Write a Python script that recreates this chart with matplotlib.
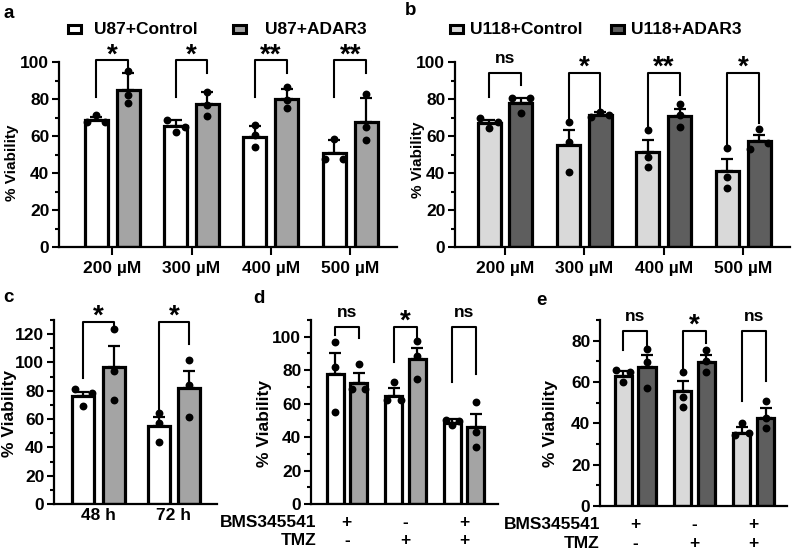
import numpy as np
import matplotlib
matplotlib.use("Agg")
import matplotlib.pyplot as plt
from matplotlib.patches import Rectangle
from matplotlib.ticker import MultipleLocator
import matplotlib.transforms as mtransforms

plt.rcParams['font.family'] = ['Liberation Sans', 'DejaVu Sans']
plt.rcParams['font.weight'] = 'bold'

# ---------------- data ----------------
conc_labels = ['200 µM', '300 µM', '400 µM', '500 µM']
time_labels = ['48 h', '72 h']
bms_signs = ['+', '-', '+']
tmz_signs = ['-', '+', '+']

# a: U87 control vs ADAR3, TMZ dose
a_ctrl_mean = [68.7, 65.2, 59.5, 51.0]
a_ctrl_err = [1.8, 3.3, 6.0, 6.8]
a_ctrl_pts = [[67.5, 71.2, 67.5], [68.5, 62.0, 65.0], [66.0, 60.5, 53.9], [58.2, 47.4, 47.4]]
a_adar_mean = [85.1, 77.3, 80.2, 67.8]
a_adar_err = [9.0, 6.7, 5.3, 12.6]
a_adar_pts = [[95.3, 82.0, 78.0], [84.0, 77.0, 71.0], [86.3, 79.5, 75.0], [82.5, 64.7, 57.8]]
a_sig = ['*', '*', '**', '**']
a_br_top = 101
a_br_left = [81, 81, 81, 81]
a_br_right = [94, 94, 94, 94]

# b: U118 control vs ADAR3, TMZ dose
b_ctrl_mean = [67.0, 55.0, 51.5, 40.9]
b_ctrl_err = [1.7, 8.0, 6.3, 6.6]
b_ctrl_pts = [[70.0, 64.2, 67.7], [67.7, 56.9, 40.7], [63.2, 48.8, 43.1], [53.3, 38.0, 32.1]]
b_adar_mean = [77.8, 71.5, 71.0, 57.4]
b_adar_err = [2.7, 1.6, 3.8, 3.2]
b_adar_pts = [[80.5, 80.5, 72.5], [70.5, 72.8, 71.5], [77.5, 71.2, 64.7], [63.8, 52.8, 56.0]]
b_sig = ['ns', '*', '**', '*']
b_br_top = 94.2
b_br_left = [81.3, 67.7, 63.2, 53.5]
b_br_right = [87.6, 75.0, 82.0, 67.0]

# c: U87 control vs ADAR3, time course
c_ctrl_mean = [76.0, 55.2]
c_ctrl_err = [3.0, 6.0]
c_ctrl_pts = [[81.0, 78.1, 69.2], [64.0, 57.5, 44.0]]
c_adar_mean = [96.5, 82.3]
c_adar_err = [15.2, 12.0]
c_adar_pts = [[123.5, 93.9, 73.4], [101.5, 84.0, 61.5]]
c_sig = ['*', '*']
c_br_top = 128.7
c_br_left = [89, 63]
c_br_right = [126, 113]

# d: U87, BMS345541 / TMZ
d_ctrl_mean = [77.5, 64.8, 48.6]
d_ctrl_err = [12.5, 4.3, 2.0]
d_ctrl_pts = [[96.6, 82.0, 54.8], [73.0, 62.2, 62.2], [50.5, 47.5, 49.5]]
d_adar_mean = [72.6, 86.5, 45.8]
d_adar_err = [6.0, 7.0, 8.0]
d_adar_pts = [[83.5, 68.5, 68.5], [97.6, 88.6, 74.7], [61.2, 43.2, 34.3]]
d_sig = ['ns', '*', 'ns']
d_br_top = 106
d_br_left = [101, 85, 73]
d_br_right = [99, 100, 78]

# e: U118, BMS345541 / TMZ
e_ctrl_mean = [63.1, 55.5, 35.4]
e_ctrl_err = [2.1, 5.2, 2.8]
e_ctrl_pts = [[66.0, 64.7, 60.2], [64.7, 52.7, 47.8], [40.3, 34.5, 35.5]]
e_adar_mean = [67.1, 69.9, 42.7]
e_adar_err = [6.0, 3.4, 4.8]
e_adar_pts = [[76.0, 69.9, 57.2], [75.5, 70.4, 64.7], [51.0, 42.5, 37.7]]
e_sig = ['ns', '*', 'ns']
e_br_top = 84.9
e_br_left = [75.5, 66.3, 51.0]
e_br_right = [74.4, 78.7, 60.7]

# ---------------- style ----------------
W, H = 793, 551
FS = 12.5
U87_COLORS = ['white', '#a4a4a4']
U118_COLORS = ['#d9d9d9', '#5e5e5e']

fig = plt.figure(figsize=(W / 100, H / 100), dpi=100)


def px_axes(left, top, right, bottom):
    return fig.add_axes([left / W, 1 - bottom / H, (right - left) / W, (bottom - top) / H])


def spread(vals, thr):
    # spread near-equal points sideways like a swarm
    vals = np.asarray(vals, dtype=float)
    order = np.argsort(vals, kind='stable')
    dx = np.zeros(len(vals))
    groups, cur = [], [order[0]]
    for k in order[1:]:
        if vals[k] - vals[cur[-1]] < thr:
            cur.append(k)
        else:
            groups.append(cur)
            cur = [k]
    groups.append(cur)
    for g in groups:
        if len(g) > 1:
            g = sorted(g)
            dx[g] = np.linspace(-0.115, 0.115, len(g))
    return dx


def draw_panel(ax, ctrl, adar, colors, ymax, major, sig, br_top, br_left, br_right):
    n = len(ctrl[0])
    x = np.arange(n)
    thr = 0.038 * ymax
    for (means, errs, pts), off, col in [(ctrl, -0.2, colors[0]), (adar, 0.2, colors[1])]:
        ax.bar(x + off, means, width=0.29, color=col, edgecolor='black', linewidth=2.3, zorder=2)
        ax.errorbar(x + off, means, yerr=[np.zeros(n), errs], fmt='none', ecolor='black',
                    elinewidth=1.6, capsize=4, capthick=1.6, zorder=3)
        for i, p in enumerate(pts):
            ax.scatter(x[i] + off + spread(p, thr), p, s=32, color='black', zorder=4,
                       linewidths=0, clip_on=False)
    for i in range(n):
        xl, xr = x[i] - 0.2, x[i] + 0.2
        ax.plot([xl, xl, xr, xr], [br_left[i], br_top, br_top, br_right[i]], color='black',
                lw=1.5, clip_on=False, zorder=5)
        if sig[i] == 'ns':
            ax.annotate('ns', (x[i], br_top), xytext=(0, 7), textcoords='offset points',
                        ha='center', va='baseline', fontsize=FS, annotation_clip=False)
        else:
            ax.annotate(sig[i], (x[i], br_top), xytext=(0, -1.5), textcoords='offset points',
                        ha='center', va='baseline', fontsize=20, annotation_clip=False)
    ax.set_ylim(0, ymax)
    ax.yaxis.set_major_locator(MultipleLocator(major))
    ax.yaxis.set_minor_locator(MultipleLocator(major / 2))
    ax.spines[['top', 'right']].set_visible(False)
    for s in ['left', 'bottom']:
        ax.spines[s].set_linewidth(1.6)
    ax.tick_params(axis='y', which='major', length=5, width=1.5, labelsize=FS, pad=2)
    ax.tick_params(axis='y', which='minor', length=3, width=1.5)
    ax.tick_params(axis='x', length=6, width=1.5, labelsize=FS, pad=4)
    ax.set_xticks(x)


def ylabel(ax, xpos, ypos, size):
    ax.text(xpos, ypos, '% Viability', transform=ax.transAxes, rotation=90,
            ha='center', va='center', fontsize=size)


def sign_rows(ax, right_x):
    tr = mtransforms.blended_transform_factory(ax.transData, ax.transAxes)
    ax.set_xticks([])
    for i, (b, t) in enumerate(zip(bms_signs, tmz_signs)):
        ax.text(i, -0.10, b, transform=tr, ha='center', va='center', fontsize=FS)
        ax.text(i, -0.20, t, transform=tr, ha='center', va='center', fontsize=FS)
    ax.text(right_x, -0.10, 'BMS345541', transform=tr, ha='right', va='center', fontsize=FS)
    ax.text(right_x, -0.20, 'TMZ', transform=tr, ha='right', va='center', fontsize=FS)


def legend(items):
    for (x0, tx, lab, col) in items:
        fig.patches.append(Rectangle((x0 / W, 1 - 33 / H), 13 / W, 8 / H, transform=fig.transFigure,
                                     facecolor=col, edgecolor='black', linewidth=2.2))
        fig.text(tx / W, 1 - 29 / H, lab, ha='left', va='center', fontsize=FS)


# a
ax_a = px_axes(59, 62, 397, 247)
draw_panel(ax_a, (a_ctrl_mean, a_ctrl_err, a_ctrl_pts), (a_adar_mean, a_adar_err, a_adar_pts),
           U87_COLORS, 100, 20, a_sig, a_br_top, a_br_left, a_br_right)
ax_a.set_xlim(-0.67, 3.59)
ax_a.set_xticklabels(conc_labels)
ylabel(ax_a, -0.139, 0.454, 11)

# b
ax_b = px_axes(455, 62, 790, 247)
draw_panel(ax_b, (b_ctrl_mean, b_ctrl_err, b_ctrl_pts), (b_adar_mean, b_adar_err, b_adar_pts),
           U118_COLORS, 100, 20, b_sig, b_br_top, b_br_left, b_br_right)
ax_b.set_xlim(-0.63, 3.59)
ax_b.set_xticklabels(conc_labels)
ylabel(ax_b, -0.11, 0.47, 11)

# c
ax_c = px_axes(54, 320, 217, 504)
draw_panel(ax_c, (c_ctrl_mean, c_ctrl_err, c_ctrl_pts), (c_adar_mean, c_adar_err, c_adar_pts),
           U87_COLORS, 130, 20, c_sig, c_br_top, c_br_left, c_br_right)
ax_c.set_ylim(0, 130)
ax_c.set_yticks(np.arange(0, 121, 20))
ax_c.set_xlim(-0.59, 1.57)
ax_c.set_xticklabels(time_labels)
ax_c.tick_params(axis='x', length=0, pad=3)
ylabel(ax_c, -0.27, 0.49, 12.5)

# d
ax_d = px_axes(311, 320, 498, 504)
draw_panel(ax_d, (d_ctrl_mean, d_ctrl_err, d_ctrl_pts), (d_adar_mean, d_adar_err, d_adar_pts),
           U87_COLORS, 110, 20, d_sig, d_br_top, d_br_left, d_br_right)
ax_d.set_yticks(np.arange(0, 101, 20))
ax_d.set_xlim(-0.61, 2.575)
sign_rows(ax_d, -0.52)
ylabel(ax_d, -0.246, 0.44, 12.5)

# e
ax_e = px_axes(600, 320, 787, 506)
draw_panel(ax_e, (e_ctrl_mean, e_ctrl_err, e_ctrl_pts), (e_adar_mean, e_adar_err, e_adar_pts),
           U118_COLORS, 90, 20, e_sig, e_br_top, e_br_left, e_br_right)
ax_e.set_yticks(np.arange(0, 81, 20))
ax_e.set_xlim(-0.59, 2.56)
sign_rows(ax_e, -0.59)
ylabel(ax_e, -0.267, 0.446, 12.5)

legend([(68, 94, 'U87+Control', U87_COLORS[0]), (233, 265, 'U87+ADAR3', U87_COLORS[1]),
        (450, 470, 'U118+Control', U118_COLORS[0]), (611, 631, 'U118+ADAR3', U118_COLORS[1])])

for lab, x, y in [('a', 3, 18), ('b', 405, 15), ('c', 3, 302), ('d', 253, 303), ('e', 536, 305)]:
    fig.text(x / W, 1 - y / H, lab, ha='left', va='baseline', fontsize=13.5)

fig.savefig('out.png', dpi=100)
